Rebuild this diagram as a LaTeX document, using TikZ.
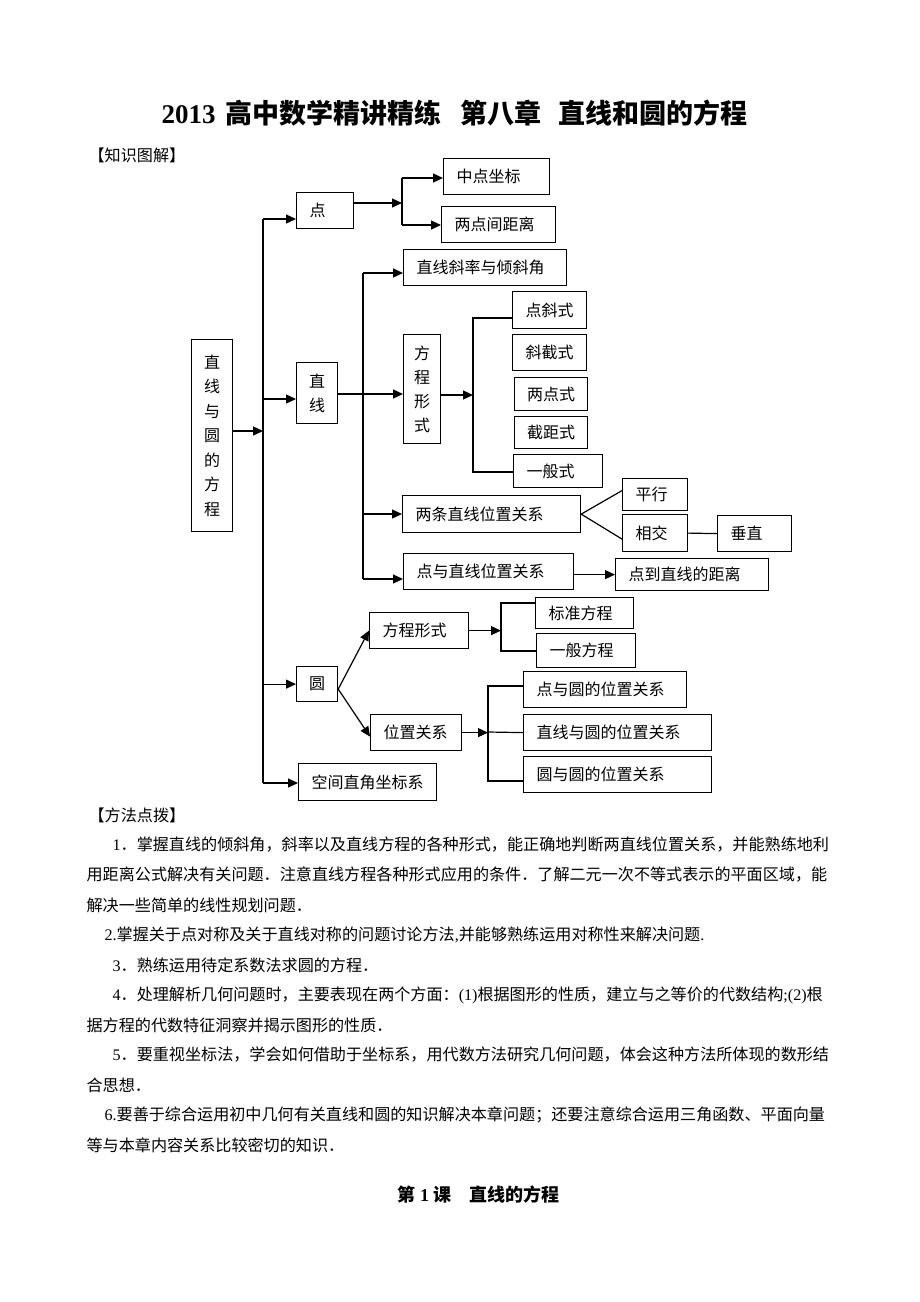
\documentclass[tikz,border=0pt]{standalone}
\usepackage{fontspec}
\setmainfont{Noto Sans CJK SC}
\newfontfamily\lat{Liberation Serif}
\usetikzlibrary{arrows.meta}
\XeTeXlinebreaklocale "zh"
\XeTeXlinebreakskip=0pt plus 3pt
\newcommand{\diafont}{\fontsize{16}{19}\selectfont}
\newcommand{\txtfont}{\fontsize{16.1}{19}\selectfont}
\tikzset{
  box/.style={draw,anchor=north west,inner xsep=13pt,inner ysep=0pt,align=left,font=\diafont},
  vbox/.style={draw,anchor=north west,inner sep=0pt,align=center,font=\fontsize{16}{24}\selectfont},
  arr/.style={-{Triangle[length=10pt,width=9pt]}},
  txt/.style={anchor=west,inner sep=0pt,font=\txtfont},
  jline/.style={txt,text width=#1,align=justify}
}
\begin{document}
\begin{tikzpicture}[x=1pt,y=-1pt,line width=1.2pt]
\fill[white] (0,0) rectangle (920,1302);
\useasboundingbox (0,0) rectangle (920,1302);
\node[txt,font=\fontsize{27}{32}\selectfont\bfseries] (title) at (161,113)
  {{\lat\bfseries 2013}\hspace{10pt}高中数学精讲精练\hspace{19pt}第八章\hspace{17pt}直线和圆的方程};
\node[txt] (zs) at (88,155) {【知识图解】};

\node[vbox,text width=41pt,minimum height=192pt,font=\fontsize{16}{24.5}\selectfont] (main) at (191,339)
  {直\\线\\与\\圆\\的\\方\\程};
\node[box,text width=31pt,minimum height=36pt] (dian) at (296,192) {点};
\node[vbox,text width=41pt,minimum height=61pt] (zx) at (296,362) {直\\线};
\node[box,text width=16pt,inner xsep=12.5pt,minimum height=35pt] (yuan) at (296,666) {圆};
\node[box,text width=112pt,minimum height=37pt] (kj) at (298,763) {空间直角坐标系};

\node[box,text width=80pt,minimum height=36pt] (zd) at (443,158) {中点坐标};
\node[box,text width=88pt,minimum height=36pt] (ld) at (441,206) {两点间距离};
\node[box,text width=137pt,minimum height=36pt] (xl) at (403,249) {直线斜率与倾斜角};
\node[vbox,text width=37pt,minimum height=109pt] (fc) at (403,334) {方\\程\\形\\式};
\node[box,text width=48pt,minimum height=37pt] (ddx) at (512,291) {点斜式};
\node[box,text width=48pt,minimum height=36pt] (xj) at (512,334) {斜截式};
\node[box,text width=48pt,inner xsep=12.5pt,minimum height=33pt] (ldx) at (514,377) {两点式};
\node[box,text width=48pt,inner xsep=12.5pt,minimum height=32pt] (jj) at (514,416) {截距式};
\node[box,text width=63pt,minimum height=33pt] (yb) at (513,454) {一般式};
\node[box,text width=152pt,minimum height=37pt] (lt) at (402,495) {两条直线位置关系};
\node[box,text width=39pt,minimum height=32pt] (px) at (622,478) {平行};
\node[box,text width=39pt,minimum height=37pt] (xjiao) at (622,514) {相交};
\node[box,text width=48pt,minimum height=36pt] (cz) at (717,515) {垂直};
\node[box,text width=144pt,minimum height=36pt] (dz) at (403,553) {点与直线位置关系};
\node[box,text width=127pt,minimum height=32pt] (dj) at (615,558) {点到直线的距离};

\node[box,text width=73pt,minimum height=36pt] (yfc) at (369,612) {方程形式};
\node[box,text width=72pt,minimum height=31pt] (bz) at (535,597) {标准方程};
\node[box,text width=73pt,minimum height=34pt] (yfb) at (536,633) {一般方程};
\node[box,text width=65pt,minimum height=36pt] (wz) at (370,714) {位置关系};
\node[box,text width=137pt,minimum height=36pt] (dy) at (523,671) {点与圆的位置关系};
\node[box,text width=162pt,minimum height=36pt] (zy) at (523,714) {直线与圆的位置关系};
\node[box,text width=162pt,minimum height=36pt] (yy) at (523,756) {圆与圆的位置关系};

\coordinate (tin) at (263,431);
\coordinate (ttop) at (263,219);
\coordinate (tz) at (263,399);
\coordinate (tbot) at (263,783);
\draw[arr] (main.east |- tin) -- (tin);
\draw (ttop) -- (tbot);
\draw[arr] (ttop) -- (ttop -| dian.west);
\draw[arr] (tz) -- (tz -| zx.west);
\draw[arr] (ttop |- yuan.west) -- (yuan.west);
\draw[arr] (tbot) -- (tbot -| kj.west);

\coordinate (p1) at (402,203);
\coordinate (p2) at (402,178);
\coordinate (p3) at (402,225);
\draw[arr] (dian.east |- p1) -- (p1);
\draw (p2) -- (p3);
\draw[arr] (p2) -- (p2 -| zd.west);
\draw[arr] (p3) -- (p3 -| ld.west);

\coordinate (l1) at (363,273);
\coordinate (l2) at (363,579);
\coordinate (l3) at (363,394);
\coordinate (l4) at (363,514);
\draw (l1) -- (l2);
\draw[arr] (l1) -- (l1 -| xl.west);
\draw[arr] (zx.east |- l3) -- (l3 -| fc.west);
\draw[arr] (l4) -- (l4 -| lt.west);
\draw[arr] (l2) -- (l2 -| dz.west);

\coordinate (f1) at (473,395);
\coordinate (f2) at (473,318);
\coordinate (f3) at (473,472);
\draw[arr] (fc.east |- f1) -- (f1);
\draw (ddx.west |- f2) -- (f2) -- (f3) -- (f3 -| yb.west);

\draw (lt.east) -- ([yshift=4pt]px.west);
\draw (lt.east) -- ([yshift=-6pt]xjiao.west);
\draw (xjiao.east) -- (cz.west);
\draw[arr] (dz.east |- dj.west) -- (dj.west);

\coordinate (c0) at ([yshift=-5pt]yuan.east);
\draw[arr] (c0) -- (yfc.west);
\draw[arr] (c0) -- ([yshift=-4pt]wz.west);

\coordinate (e1) at (501,630);
\coordinate (e2) at (501,603);
\coordinate (e3) at (501,651);
\draw[arr] (yfc.east) -- (yfc.east -| e1);
\draw (bz.west |- e2) -- (e2) -- (e3) -- (e3 -| yfb.west);

\coordinate (g1) at (488,732);
\coordinate (g2) at (488,686);
\coordinate (g3) at (488,781);
\draw[arr] (wz.east) -- (wz.east -| g1);
\draw (dy.west |- g2) -- (g2) -- (g3) -- (g3 -| yy.west);
\draw (g1) -- (zy.west);

\node[txt] (ff) at (88,815) {【方法点拨】};
\node[jline=718pt] (t1) at (112,845) {\parfillskip=0pt\relax{\lat 1}．掌握直线的倾斜角，斜率以及直线方程的各种形式，能正确地判断两直线位置关系，并能熟练地利};
\node[jline=744pt] (t2) at (86,875) {\parfillskip=0pt\relax 用距离公式解决有关问题．注意直线方程各种形式应用的条件．了解二元一次不等式表示的平面区域，能};
\node[txt] (t3) at (86,905) {解决一些简单的线性规划问题．};
\node[txt] (t4) at (104,935) {{\lat 2.}掌握关于点对称及关于直线对称的问题讨论方法{\lat ,}并能够熟练运用对称性来解决问题{\lat .}};
\node[txt] (t5) at (112,965) {{\lat 3}．熟练运用待定系数法求圆的方程．};
\node[jline=718pt] (t6) at (112,995) {\parfillskip=0pt\relax{\lat 4}．处理解析几何问题时，主要表现在两个方面：{\lat (1)}根据图形的性质，建立与之等价的代数结构{\lat ;(2)}根};
\node[txt] (t7) at (86,1025) {据方程的代数特征洞察并揭示图形的性质．};
\node[jline=718pt] (t8) at (112,1055) {\parfillskip=0pt\relax{\lat 5}．要重视坐标法，学会如何借助于坐标系，用代数方法研究几何问题，体会这种方法所体现的数形结};
\node[txt] (t9) at (86,1085) {合思想．};
\node[jline=726pt] (t10) at (104,1115) {\parfillskip=0pt\relax{\lat 6.}要善于综合运用初中几何有关直线和圆的知识解决本章问题；还要注意综合运用三角函数、平面向量};
\node[txt] (t11) at (86,1145) {等与本章内容关系比较密切的知识．};
\node[txt,font=\fontsize{18}{22}\selectfont\bfseries] (ke) at (397,1195) {第{\lat\bfseries\ 1\ }课\hspace{18pt}直线的方程};
\end{tikzpicture}
\end{document}
